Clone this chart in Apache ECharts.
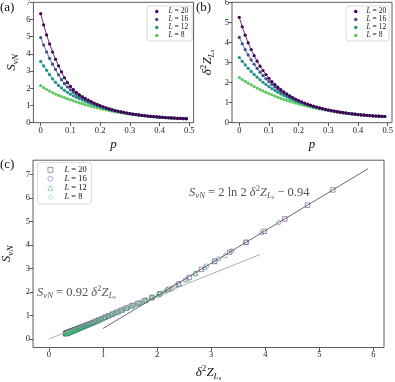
<!DOCTYPE html>
<html>
<head>
<meta charset="utf-8">
<script src="https://cdn.jsdelivr.net/npm/echarts@6/dist/echarts.min.js"></script>
<style>
  html, body { margin: 0; padding: 0; background: #fff; }
  #main { width: 395px; height: 382px; }
</style>
</head>
<body>
<div id="main"></div>
<script>
// disorder probability p
const pVals = [0.00, 0.01, 0.02, 0.03, 0.04, 0.05, 0.06, 0.07, 0.08, 0.09,
  0.10, 0.11, 0.12, 0.13, 0.14, 0.15, 0.16, 0.17, 0.18, 0.19,
  0.20, 0.21, 0.22, 0.23, 0.24, 0.25, 0.26, 0.27, 0.28, 0.29,
  0.30, 0.31, 0.32, 0.33, 0.34, 0.35, 0.36, 0.37, 0.38, 0.39,
  0.40, 0.41, 0.42, 0.43, 0.44, 0.45, 0.46, 0.47, 0.48, 0.49];

// S_vN, panel (a)
const S20 = [6.337, 5.687, 5.104, 4.579, 4.111, 3.689, 3.308, 2.958, 2.614, 2.335,
  2.108, 1.922, 1.765, 1.631, 1.515, 1.411, 1.317, 1.227, 1.143, 1.064,
  0.992, 0.927, 0.866, 0.809, 0.758, 0.710, 0.668, 0.630, 0.595, 0.563,
  0.532, 0.504, 0.478, 0.453, 0.431, 0.410, 0.390, 0.372, 0.355, 0.339,
  0.324, 0.311, 0.298, 0.287, 0.276, 0.266, 0.256, 0.248, 0.241, 0.233];
const S16 = [4.951, 4.513, 4.112, 3.742, 3.405, 3.096, 2.786, 2.504, 2.270, 2.076,
  1.913, 1.770, 1.648, 1.539, 1.441, 1.351, 1.268, 1.184, 1.107, 1.036,
  0.970, 0.908, 0.852, 0.798, 0.749, 0.703, 0.663, 0.626, 0.592, 0.560,
  0.531, 0.503, 0.477, 0.453, 0.430, 0.410, 0.390, 0.371, 0.355, 0.339,
  0.324, 0.311, 0.298, 0.287, 0.276, 0.266, 0.256, 0.248, 0.241, 0.233];
const S12 = [3.565, 3.298, 3.050, 2.791, 2.552, 2.348, 2.170, 2.020, 1.885, 1.766,
  1.659, 1.564, 1.476, 1.396, 1.320, 1.244, 1.172, 1.104, 1.040, 0.979,
  0.923, 0.869, 0.818, 0.771, 0.727, 0.685, 0.649, 0.615, 0.584, 0.554,
  0.525, 0.498, 0.473, 0.450, 0.428, 0.408, 0.389, 0.370, 0.354, 0.338,
  0.324, 0.311, 0.298, 0.286, 0.276, 0.266, 0.256, 0.248, 0.241, 0.233];
const S8 = [2.150, 2.036, 1.931, 1.836, 1.749, 1.667, 1.592, 1.522, 1.455, 1.393,
  1.333, 1.275, 1.215, 1.157, 1.104, 1.050, 1.001, 0.953, 0.906, 0.863,
  0.820, 0.780, 0.743, 0.705, 0.671, 0.640, 0.611, 0.583, 0.555, 0.530,
  0.506, 0.483, 0.461, 0.439, 0.419, 0.401, 0.383, 0.366, 0.350, 0.335,
  0.322, 0.309, 0.297, 0.285, 0.275, 0.265, 0.256, 0.248, 0.240, 0.233];

// delta^2 Z_Ls, panel (b)
const Z20 = [5.250, 4.781, 4.361, 3.982, 3.644, 3.340, 3.065, 2.819, 2.596, 2.396,
  2.215, 2.051, 1.903, 1.768, 1.646, 1.534, 1.432, 1.339, 1.255, 1.177,
  1.105, 1.040, 0.979, 0.923, 0.872, 0.824, 0.780, 0.739, 0.701, 0.666,
  0.633, 0.602, 0.574, 0.547, 0.523, 0.500, 0.478, 0.459, 0.440, 0.423,
  0.407, 0.392, 0.378, 0.366, 0.354, 0.343, 0.333, 0.324, 0.316, 0.308];
const Z16 = [4.250, 3.934, 3.645, 3.378, 3.135, 2.912, 2.707, 2.520, 2.346, 2.188,
  2.043, 1.908, 1.785, 1.671, 1.566, 1.469, 1.380, 1.297, 1.220, 1.149,
  1.083, 1.022, 0.965, 0.912, 0.863, 0.817, 0.775, 0.735, 0.698, 0.663,
  0.631, 0.601, 0.573, 0.547, 0.522, 0.500, 0.478, 0.458, 0.440, 0.423,
  0.407, 0.392, 0.378, 0.366, 0.354, 0.343, 0.333, 0.324, 0.316, 0.308];
const Z12 = [3.250, 3.058, 2.879, 2.710, 2.553, 2.406, 2.267, 2.139, 2.017, 1.904,
  1.797, 1.698, 1.604, 1.517, 1.435, 1.357, 1.285, 1.216, 1.153, 1.092,
  1.036, 0.983, 0.932, 0.885, 0.841, 0.799, 0.760, 0.723, 0.689, 0.656,
  0.625, 0.596, 0.569, 0.544, 0.520, 0.498, 0.477, 0.457, 0.439, 0.422,
  0.407, 0.392, 0.378, 0.365, 0.354, 0.343, 0.333, 0.324, 0.316, 0.308];
const Z8 = [2.250, 2.153, 2.060, 1.971, 1.887, 1.805, 1.727, 1.653, 1.582, 1.514,
  1.449, 1.387, 1.327, 1.270, 1.216, 1.163, 1.114, 1.066, 1.020, 0.976,
  0.934, 0.894, 0.856, 0.819, 0.784, 0.750, 0.718, 0.688, 0.658, 0.630,
  0.604, 0.579, 0.555, 0.532, 0.510, 0.490, 0.471, 0.452, 0.435, 0.419,
  0.404, 0.390, 0.377, 0.364, 0.353, 0.342, 0.333, 0.324, 0.315, 0.308];

const sizes = [20, 16, 12, 8];
const sData = {20: S20, 16: S16, 12: S12, 8: S8};
const zData = {20: Z20, 16: Z16, 12: Z12, 8: Z8};
const colors = {20: '#440154', 16: '#3b528b', 12: '#21918c', 8: '#5ec962'};
const hollow = {20: 'rgba(68,1,84,0.7)', 16: 'rgba(59,82,139,0.7)', 12: 'rgba(33,145,140,0.7)', 8: 'rgba(94,201,98,0.75)'};
const shapes = {20: 'rect', 16: 'circle', 12: 'triangle', 8: 'diamond'};

// fits shown in panel (c)
const fitSmall = {slope: 0.92, icpt: 0, from: 0, to: 3.9};
const fitLarge = {slope: 2 * Math.LN2, icpt: -0.94, from: 1, to: 5.9};

const pTicks = [0, 0.1, 0.2, 0.3, 0.4, 0.5];
const cxTicks = [0, 1, 2, 3, 4, 5, 6];
const cyTicks = [0, 1, 2, 3, 4, 5, 6, 7];

const SERIF = '"Liberation Serif", "DejaVu Serif", serif';
const ink = '#333';

let myChart = echarts.init(document.getElementById('main'), null, {renderer: 'canvas'});

let mathRich = (fs, col) => {
    let c = col || '#111';
    let base = {fontFamily: SERIF, fontWeight: 'normal', color: c};
    return {
        m: Object.assign({fontStyle: 'italic', fontSize: fs, lineHeight: fs + 4}, base),
        r: Object.assign({fontSize: fs, lineHeight: fs + 4}, base),
        s: Object.assign({fontStyle: 'italic', fontSize: fs * 0.7, lineHeight: fs * 0.7, verticalAlign: 'bottom'}, base),
        ss: Object.assign({fontStyle: 'italic', fontSize: fs * 0.5, lineHeight: fs * 0.5, verticalAlign: 'bottom'}, base),
        u: Object.assign({fontSize: fs * 0.7, lineHeight: fs * 0.7, verticalAlign: 'top'}, base)
    };
};
const SvN = '{m|S}{s|vN}';
const dZ = '{m|δ}{u|2}{m|Z}{s|L}{ss|s}';

let pAxis = (idx) => ({
    type: 'value', gridIndex: idx, min: -0.0245, max: 0.5145,
    axisLine: {show: false, onZero: false}, splitLine: {show: false},
    axisTick: {show: true, length: 3.5, customValues: pTicks, lineStyle: {color: ink, width: 0.8}},
    axisLabel: {customValues: pTicks, margin: 4, fontFamily: SERIF, fontSize: 8.5, color: '#222',
        formatter: (v) => String(+v.toFixed(1))},
    name: '{m|p}', nameLocation: 'middle', nameGap: 13,
    nameTextStyle: {rich: mathRich(13)}
});

let valAxis = (idx, min, max, ticks, name, gap) => ({
    type: 'value', gridIndex: idx, min: min, max: max,
    axisLine: {show: false, onZero: false}, splitLine: {show: false},
    axisTick: {show: true, length: 3.5, customValues: ticks, lineStyle: {color: ink, width: 0.8}},
    axisLabel: {customValues: ticks, margin: 3, fontFamily: SERIF, fontSize: 8.5, color: '#222'},
    name: name, nameLocation: 'middle', nameGap: gap,
    nameTextStyle: {rich: mathRich(13)}
});

let legendFor = (prefix, pos, opts) => ({
    orient: 'vertical', left: pos[0], top: pos[1],
    selectedMode: false,
    backgroundColor: 'rgba(255,255,255,0.85)',
    borderColor: '#d0d0d0', borderWidth: 0.8, borderRadius: 2,
    padding: opts.padding, itemGap: 0,
    itemWidth: opts.icon_size, itemHeight: opts.icon_size,
    data: sizes.map(L => ({
        name: prefix + L, icon: opts.icon ? opts.icon : shapes[L],
        itemStyle: opts.icon ? {color: colors[L]} : {color: 'rgba(255,255,255,0)', borderColor: hollow[L], borderWidth: 0.8}
    })),
    formatter: (name) => '{i|L}{t| = ' + name.slice(1) + '}',
    textStyle: {
        rich: {
            i: {fontFamily: SERIF, fontStyle: 'italic', fontSize: opts.fs, lineHeight: opts.lh, color: '#111', padding: [0, 0, 0, opts.textPad]},
            t: {fontFamily: SERIF, fontSize: opts.fs, lineHeight: opts.lh, color: '#111'}
        }
    }
});

let series = [];
// panels (a) and (b): small L drawn first so L=20 sits on top
[8, 12, 16, 20].forEach(L => {
    series.push({
        name: 'a' + L, type: 'line', xAxisIndex: 0, yAxisIndex: 0,
        data: pVals.map((p, i) => [p, sData[L][i]]),
        symbol: 'circle', symbolSize: 3.2, showSymbol: true,
        lineStyle: {color: colors[L], width: 0.8},
        itemStyle: {color: colors[L]}, silent: true
    });
    series.push({
        name: 'b' + L, type: 'line', xAxisIndex: 1, yAxisIndex: 1,
        data: pVals.map((p, i) => [p, zData[L][i]]),
        symbol: 'circle', symbolSize: 3.2, showSymbol: true,
        lineStyle: {color: colors[L], width: 0.8},
        itemStyle: {color: colors[L]}, silent: true
    });
});
// panel (c): S_vN against delta^2 Z
sizes.forEach(L => {
    series.push({
        name: 'c' + L, type: 'scatter', xAxisIndex: 2, yAxisIndex: 2,
        data: zData[L].map((z, i) => [z, sData[L][i]]),
        symbol: shapes[L], symbolSize: L === 12 ? 5 : 4.5,
        itemStyle: {color: 'rgba(255,255,255,0)', borderColor: hollow[L], borderWidth: 0.8},
        silent: true
    });
});
[[fitSmall, '#999'], [fitLarge, '#444']].forEach(([f, col], k) => {
    series.push({
        name: 'fit' + k, type: 'line', xAxisIndex: 2, yAxisIndex: 2,
        data: [f.from, f.to].map(z => [z, f.slope * z + f.icpt]),
        showSymbol: false, lineStyle: {color: col, width: 0.8}, z: 3, silent: true
    });
});

let mathTitle = (text, x, y, fs, col) => ({
    text: text, left: x, top: y, padding: 0, itemGap: 0,
    textStyle: {fontWeight: 'normal', rich: mathRich(fs, col)}
});
let panelTitle = (text, x, y) => ({
    text: text, left: x, top: y, padding: 0,
    textStyle: {fontFamily: SERIF, fontSize: 13, fontWeight: 'normal', color: '#111'}
});

let gridBox = (l, t, w, h) => ({
    left: l, top: t, width: w, height: h, outerBoundsMode: 'none', containLabel: false,
    show: true, borderColor: ink, borderWidth: 0.8, backgroundColor: 'transparent'
});

let option = {
    animation: false,
    backgroundColor: '#fff',
    title: [
        panelTitle('(a)', 0, 1),
        panelTitle('(b)', 196, 1),
        panelTitle('(c)', 0, 158),
        mathTitle(SvN + '{r| = 2 ln 2 }' + dZ + '{r| − 0.94}', 189, 184, 12.5, '#555'),
        mathTitle(SvN + '{r| = 0.92 }' + dZ, 37, 284, 12.5, '#555')
    ],
    grid: [
        gridBox(33.4, 2.3, 160.2, 120.4),
        gridBox(232, 2.3, 160, 120.4),
        gridBox(33, 160.2, 351, 187.3)
    ],
    xAxis: [
        pAxis(0),
        pAxis(1),
        valAxis(2, -0.295, 6.195, cxTicks, dZ, 17)
    ],
    yAxis: [
        valAxis(0, 0, 7, [0, 1, 2, 3, 4, 5, 6, 7], SvN, 13),
        valAxis(1, 0, 6, [0, 1, 2, 3, 4, 5, 6], dZ, 16),
        valAxis(2, -0.362, 7.6, cyTicks, SvN, 12)
    ],
    legend: [
        legendFor('a', [147, 6], {padding: [1.5, 4, 1.5, 8], icon_size: 3.5, icon: 'circle', textPad: 5, fs: 7.5, lh: 9.8}),
        legendFor('b', [346, 6], {padding: [1.5, 3, 1.5, 8], icon_size: 3.5, icon: 'circle', textPad: 4, fs: 7.5, lh: 9.8}),
        legendFor('c', [37.7, 162.7], {padding: [2.6, 5, 2.6, 9.8], icon_size: 5, textPad: 6.5, fs: 8.5, lh: 12})
    ],
    series: series
};

myChart.setOption(option);
</script>
</body>
</html>
